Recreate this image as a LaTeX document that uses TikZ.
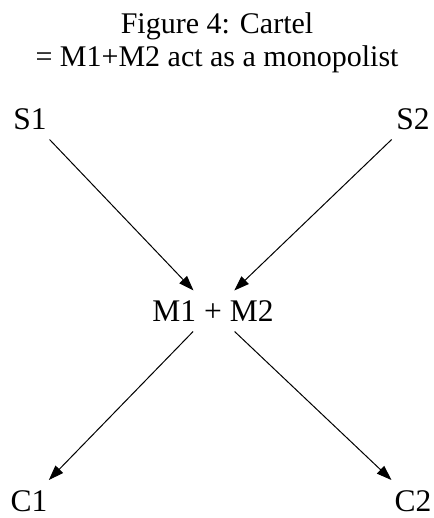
\documentclass[tikz,border=0pt]{standalone}
\usepackage{fontspec}
\setmainfont{Liberation Serif}
\usetikzlibrary{arrows.meta}
\tikzset{firm/.style={font=\fontsize{31.5}{35}\selectfont,inner sep=2pt,outer sep=8pt,text height=21pt,text depth=0pt},flow/.style={-{Triangle[length=15pt,width=10.5pt]},line width=1pt},lab/.style={font=\fontsize{30}{33}\selectfont,align=center}}
\begin{document}
\begin{tikzpicture}[x=1pt,y=-1pt]
\useasboundingbox (0,0) rectangle (433,518);
\node[lab] (title) at (217,42.5) {Figure 4: Cartel\\= M1+M2 act as a monopolist};
\node[firm] (s1) at (30,119) {S1};
\node[firm] (s2) at (413,119) {S2};
\node[firm] (m) at (213,311) {M1 + M2};
\node[firm] (c1) at (29,500.5) {C1};
\node[firm] (c2) at (413,500.5) {C2};
\draw[flow] (s1)--(m);\draw[flow] (s2)--(m);\draw[flow] (m)--(c1);\draw[flow] (m)--(c2);
\end{tikzpicture}
\end{document}
